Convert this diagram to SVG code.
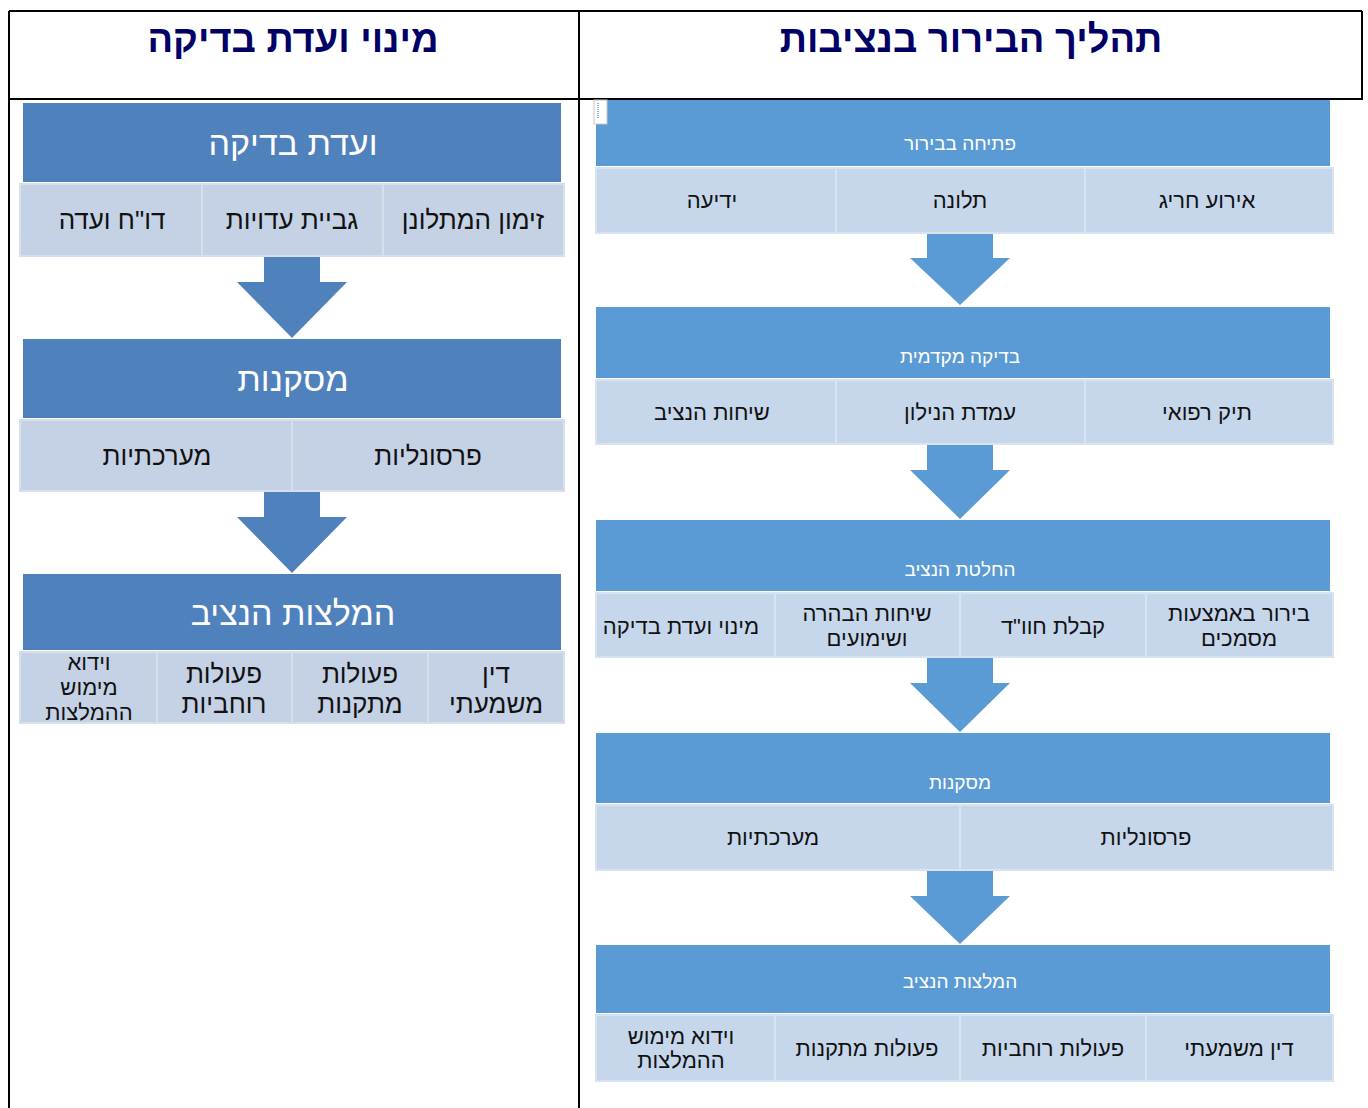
<svg xmlns="http://www.w3.org/2000/svg" width="1368" height="1108" viewBox="0 0 1368 1108">
<style>
text{font-family:"Liberation Sans","DejaVu Sans",Arial,sans-serif;direction:rtl;text-anchor:middle}
.title{font-size:38px;font-weight:bold;fill:#000066}
.hl{fill:#4F81BD}
.hr{fill:#5B9BD5}
.sl{fill:#C5D1E5;stroke:#D6DFEC;stroke-width:2}
.sr{fill:#C6D7EC;stroke:#D8E3F1;stroke-width:2}
.al{fill:#4F81BD}
.ar{fill:#5B9BD5}
.ht{fill:#FFFFFF;font-size:34px}
.hts{fill:#FFFFFF;font-size:19px}
.st{fill:#111111;font-size:26px}
.sts{fill:#111111;font-size:22px}
.grid{stroke:#000000;stroke-width:2;fill:none}
</style>
<rect width="1368" height="1108" fill="#FFFFFF"/>
<g id="table">
<line class="grid" x1="9" y1="11" x2="1362" y2="11"/>
<line class="grid" x1="9" y1="99" x2="1362" y2="99"/>
<line class="grid" x1="9" y1="11" x2="9" y2="1108"/>
<line class="grid" x1="579" y1="11" x2="579" y2="1108"/>
<line class="grid" x1="1362" y1="11" x2="1362" y2="100"/>
<text id="title-left" class="title" x="293" y="52">מינוי ועדת בדיקה</text>
<text id="title-right" class="title" x="971" y="52">תהליך הבירור בנציבות</text>
</g>
<g id="connectors">
<polygon class="al" points="264,257 320,257 320,282 347,282 292,338 237,282 264,282"/>
<polygon class="al" points="264,492 320,492 320,517 347,517 292,573 237,517 264,517"/>
<polygon class="ar" points="927,234 993,234 993,258 1010,258 960,305 910,258 927,258"/>
<polygon class="ar" points="927,445 993,445 993,470 1010,470 960,519 910,470 927,470"/>
<polygon class="ar" points="927,658 993,658 993,683 1010,683 960,732 910,683 927,683"/>
<polygon class="ar" points="927,871 993,871 993,896 1010,896 960,944 910,896 927,896"/>
</g>
<g id="left-1">
<rect class="hl" x="23" y="103" width="538" height="79"/>
<text class="ht" x="293" y="155">ועדת בדיקה</text>
<rect class="sl" x="383" y="184" width="181" height="72"/>
<rect class="sl" x="202" y="184" width="181" height="72"/>
<rect class="sl" x="20" y="184" width="182" height="72"/>
<text class="st" x="473" y="229">זימון המתלונן</text>
<text class="st" x="292" y="229">גביית עדויות</text>
<text class="st" x="112" y="229">דו"ח ועדה</text>
</g>
<g id="left-2">
<rect class="hl" x="23" y="339" width="538" height="79"/>
<text class="ht" x="293" y="391">מסקנות</text>
<rect class="sl" x="292" y="420" width="272" height="71"/>
<rect class="sl" x="20" y="420" width="272" height="71"/>
<text class="st" x="428" y="465">פרסונליות</text>
<text class="st" x="157" y="465">מערכתיות</text>
</g>
<g id="left-3">
<rect class="hl" x="23" y="574" width="538" height="76"/>
<text class="ht" x="293" y="625">המלצות הנציב</text>
<rect class="sl" x="428" y="652" width="136" height="71"/>
<rect class="sl" x="292" y="652" width="136" height="71"/>
<rect class="sl" x="157" y="652" width="135" height="71"/>
<rect class="sl" x="20" y="652" width="137" height="71"/>
<text class="st" x="496" y="683">דין</text>
<text class="st" x="496" y="713">משמעתי</text>
<text class="st" x="360" y="683">פעולות</text>
<text class="st" x="360" y="713">מתקנות</text>
<text class="st" x="224" y="683">פעולות</text>
<text class="st" x="224" y="713">רוחביות</text>
<text class="sts" x="89" y="670">וידוא</text>
<text class="sts" x="89" y="695">מימוש</text>
<text class="sts" x="89" y="720">ההמלצות</text>
</g>
<g id="right-1">
<rect class="hr" x="596" y="100" width="734" height="66"/>
<rect x="594" y="100" width="13" height="24" fill="#FFFFFF" stroke="#C8C8C8" stroke-width="1"/>
<line x1="598" y1="103" x2="598" y2="119" stroke="#8FB0D8" stroke-width="2" stroke-dasharray="1,1"/>
<text class="hts" x="960" y="150">פתיחה בבירור</text>
<rect class="sr" x="1085" y="168" width="248" height="65"/>
<rect class="sr" x="836" y="168" width="249" height="65"/>
<rect class="sr" x="596" y="168" width="240" height="65"/>
<text class="sts" x="1207" y="208">אירוע חריג</text>
<text class="sts" x="960" y="208">תלונה</text>
<text class="sts" x="712" y="208">ידיעה</text>
</g>
<g id="right-2">
<rect class="hr" x="596" y="307" width="734" height="71"/>
<text class="hts" x="960" y="363">בדיקה מקדמית</text>
<rect class="sr" x="1085" y="380" width="248" height="64"/>
<rect class="sr" x="836" y="380" width="249" height="64"/>
<rect class="sr" x="596" y="380" width="240" height="64"/>
<text class="sts" x="1207" y="420">תיק רפואי</text>
<text class="sts" x="960" y="420">עמדת הנילון</text>
<text class="sts" x="712" y="420">שיחות הנציב</text>
</g>
<g id="right-3">
<rect class="hr" x="596" y="520" width="734" height="71"/>
<text class="hts" x="960" y="576">החלטת הנציב</text>
<rect class="sr" x="1146" y="593" width="187" height="64"/>
<rect class="sr" x="960" y="593" width="186" height="64"/>
<rect class="sr" x="775" y="593" width="185" height="64"/>
<rect class="sr" x="596" y="593" width="179" height="64"/>
<text class="sts" x="1239" y="621">בירור באמצעות</text>
<text class="sts" x="1239" y="646">מסמכים</text>
<text class="sts" x="1053" y="634">קבלת חוו"ד</text>
<text class="sts" x="867" y="621">שיחות הבהרה</text>
<text class="sts" x="867" y="646">ושימועים</text>
<text class="sts" x="681" y="634">מינוי ועדת בדיקה</text>
</g>
<g id="right-4">
<rect class="hr" x="596" y="733" width="734" height="70"/>
<text class="hts" x="960" y="789">מסקנות</text>
<rect class="sr" x="960" y="805" width="373" height="65"/>
<rect class="sr" x="596" y="805" width="364" height="65"/>
<text class="sts" x="1146" y="845">פרסונליות</text>
<text class="sts" x="773" y="845">מערכתיות</text>
</g>
<g id="right-5">
<rect class="hr" x="596" y="945" width="734" height="68"/>
<text class="hts" x="960" y="988">המלצות הנציב</text>
<rect class="sr" x="1146" y="1015" width="187" height="66"/>
<rect class="sr" x="960" y="1015" width="186" height="66"/>
<rect class="sr" x="775" y="1015" width="185" height="66"/>
<rect class="sr" x="596" y="1015" width="179" height="66"/>
<text class="sts" x="1239" y="1056">דין משמעתי</text>
<text class="sts" x="1053" y="1056">פעולות רוחביות</text>
<text class="sts" x="867" y="1056">פעולות מתקנות</text>
<text class="sts" x="681" y="1044">וידוא מימוש</text>
<text class="sts" x="681" y="1068">ההמלצות</text>
</g>
</svg>
